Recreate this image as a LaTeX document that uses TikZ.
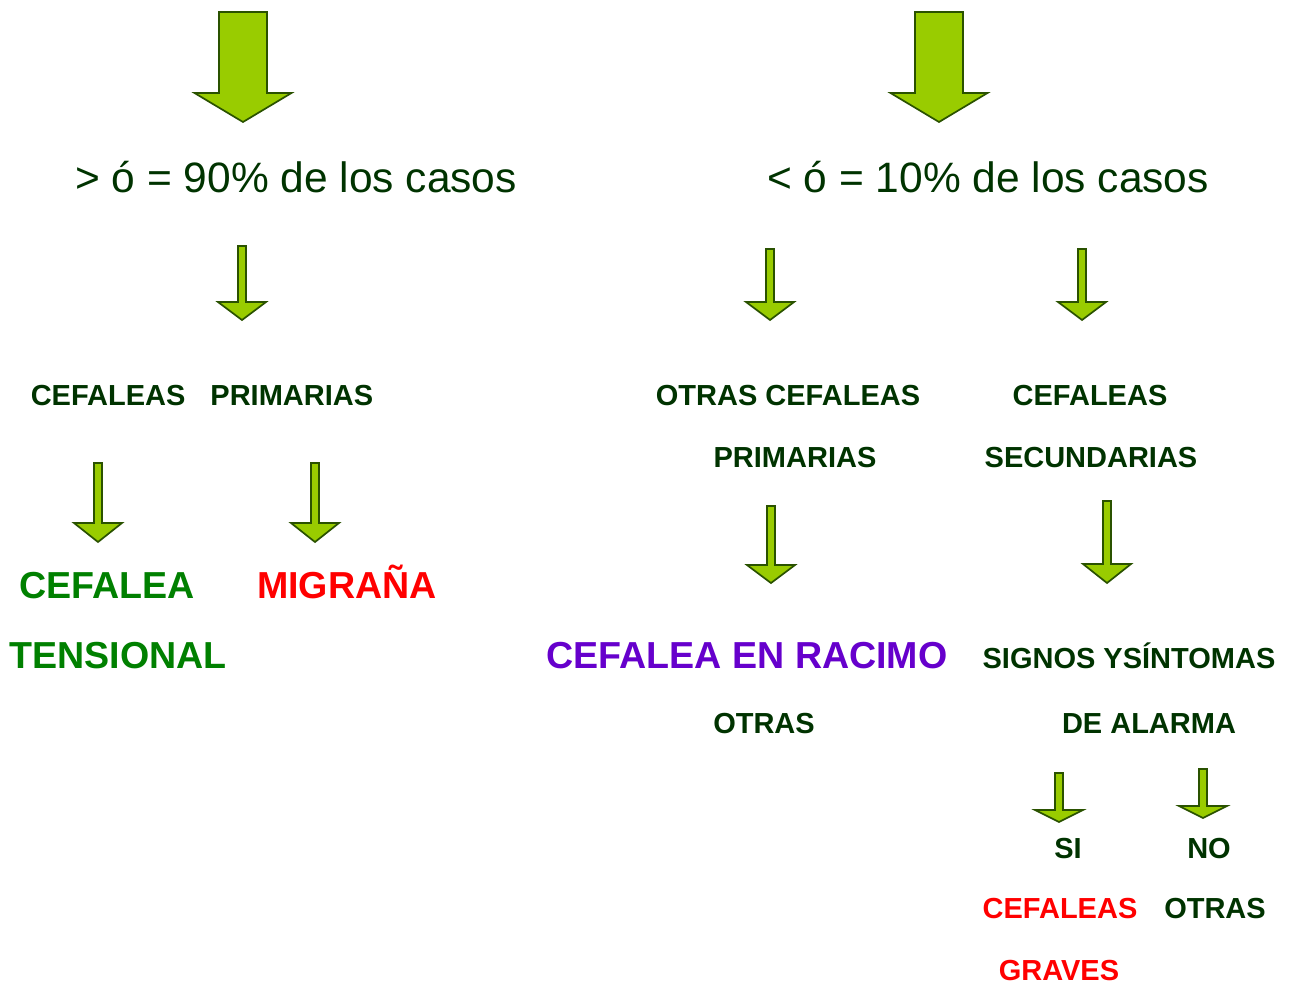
\documentclass[tikz,border=0pt]{standalone}
\usepackage{fontspec}
\setmainfont{Liberation Sans}
\usepackage{tikz}
\definecolor{textgreen}{HTML}{003300}
\definecolor{tensgreen}{HTML}{008000}
\definecolor{racpurple}{HTML}{6600CC}
\definecolor{arrowfill}{HTML}{99CC00}
\definecolor{arrowline}{HTML}{2A5200}
\tikzset{
  caso/.style={anchor=base, text=textgreen, inner sep=0pt, font=\fontsize{42.5}{50}\selectfont},
  etiq/.style={anchor=base, text=textgreen, inner sep=0pt, font=\bfseries\fontsize{29}{35}\selectfont},
  diag/.style={anchor=base, inner sep=0pt, font=\bfseries\fontsize{37.6}{45}\selectfont},
  flechabox/.style={fill=arrowfill, draw=arrowline, line width=1.7pt, line join=miter},
}
% name, x, top, tip, head length, shaft half width, head half width
\newcommand{\flecha}[7]{%
  \coordinate (#1-top) at (#2,#3);
  \coordinate (#1-tip) at (#2,#4);
  \draw[flechabox] (#2-#6,#3) -- (#2+#6,#3) -- (#2+#6,#4-#5) -- (#2+#7,#4-#5)
    -- (#1-tip) -- (#2-#7,#4-#5) -- (#2-#6,#4-#5) -- cycle;
}
\begin{document}
\begin{tikzpicture}[x=1pt, y=-1pt]
  \useasboundingbox (0,0) rectangle (1293,985);
  % big arrows
  \flecha{a1}{243}{12}{122}{29}{24}{48.5}
  \flecha{a2}{939}{12}{122}{29}{24}{48.5}
  \node[caso] (mayor) at (296,192) {> ó = 90\% de los casos};
  \node[caso] (menor) at (988,192) {< ó = 10\% de los casos};
  % small arrows
  \flecha{a3}{242}{246}{320}{18}{4}{24}
  \flecha{a4}{770}{249}{320}{18}{4}{24}
  \flecha{a5}{1082}{249}{320}{18}{4}{24}
  \node[etiq] (primarias) at (202,405) {CEFALEAS\hspace{25pt}PRIMARIAS};
  \node[etiq] (otras1) at (788,405) {OTRAS CEFALEAS};
  \node[etiq] (otras2) at (795,467) {PRIMARIAS};
  \node[etiq] (sec1) at (1090,405) {CEFALEAS};
  \node[etiq] (sec2) at (1091,467) {SECUNDARIAS};
  \flecha{a6}{98}{463}{542}{19}{4}{24}
  \flecha{a7}{315}{463}{542}{19}{4}{24}
  \flecha{a8}{771}{506}{583}{18}{4}{24}
  \flecha{a9}{1107}{501}{583}{19}{4}{24}
  \node[diag, text=tensgreen] (tens1) at (107,598) {CEFALEA};
  \node[diag, text=tensgreen] (tens2) at (118,668) {TENSIONAL};
  \node[diag, text=red] (migr) at (347,598) {MIGRAÑA};
  \node[diag, text=racpurple] (racimo) at (747,668) {CEFALEA EN RACIMO};
  \node[etiq] (otras3) at (764,733) {OTRAS};
  \node[etiq] (signos1) at (1129,668) {SIGNOS YSÍNTOMAS};
  \node[etiq] (signos2) at (1149,733) {DE ALARMA};
  % si / no
  \flecha{a10}{1059}{773}{822}{12}{4}{24}
  \flecha{a11}{1203}{769}{818}{12}{4}{24}
  \node[etiq] (si) at (1068,858) {SI};
  \node[etiq] (no) at (1209,858) {NO};
  \node[etiq, text=red] (graves1) at (1060,918) {CEFALEAS};
  \node[etiq] (otras4) at (1215,918) {OTRAS};
  \node[etiq, text=red] (graves2) at (1059,980) {GRAVES};
\end{tikzpicture}
\end{document}
